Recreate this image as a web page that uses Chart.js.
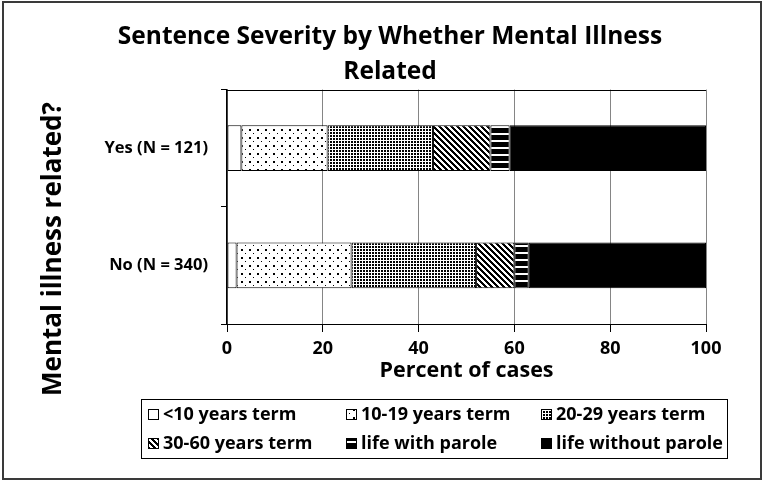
<!DOCTYPE html>
<html><head><meta charset="utf-8">
<script src="https://cdn.jsdelivr.net/npm/chart.js@4.4.0/dist/chart.umd.min.js"></script>
<style>html,body{margin:0;padding:0;background:#fff}#wrap{width:762px;height:481px;position:relative}</style>
</head><body><div id="wrap"><canvas id="c" width="762" height="481"></canvas></div>
<script>
const categories = ['Yes (N = 121)', 'No (N = 340)'];
const seriesNames = ['<10 years term', '10-19 years term', '20-29 years term', '30-60 years term', 'life with parole', 'life without parole'];
const under10 = [3, 2];
const y10to19 = [18, 24];
const y20to29 = [22, 26];
const y30to60 = [12, 8];
const lifeParole = [4, 3];
const lifeNoParole = [41, 37];
const xTickValues = [0, 20, 40, 60, 80, 100];
const yAxisTitle = 'Mental illness related?';

const FONT = '"Open Sans", Roboto, sans-serif';

function makePattern(w, h, draw) {
  const c = document.createElement('canvas');
  c.width = w; c.height = h;
  const g = c.getContext('2d');
  g.fillStyle = '#fff'; g.fillRect(0, 0, w, h);
  g.fillStyle = '#000';
  draw(g, w, h);
  return document.getElementById('c').getContext('2d').createPattern(c, 'repeat');
}
const patWhite = '#ffffff';
const patSparse = makePattern(8, 8, g => { g.fillRect(1, 1, 2, 2); g.fillRect(5, 5, 1, 1); });
const patDense = makePattern(3, 3, g => { g.fillRect(0, 0, 2, 2); });
const patDiag = makePattern(6, 6, g => {
  for (let y = 0; y < 6; y++) for (let x = 0; x < 6; x++) {
    if (((x - y) % 6 + 6) % 6 < 3) g.fillRect(x, y, 1, 1);
  }
});
const patHoriz = makePattern(4, 7, g => { g.fillRect(0, 0, 4, 7); g.fillStyle = '#fff'; g.fillRect(0, 0, 4, 2); });
const patBlack = '#000000';

const seriesData = [under10, y10to19, y20to29, y30to60, lifeParole, lifeNoParole];
const fills = [patWhite, patSparse, patDense, patDiag, patHoriz, patBlack];

const datasets = seriesNames.map((name, i) => ({
  label: name,
  data: seriesData[i],
  backgroundColor: fills[i],
  borderColor: '#000',
  borderWidth: 1,
  borderSkipped: false,
  categoryPercentage: 1,
  barPercentage: 0.39
}));

const decor = {
  id: 'decor',
  afterDraw(chart) {
    const ctx = chart.ctx;
    const a = chart.chartArea;
    ctx.save();
    ctx.strokeStyle = '#000'; ctx.lineWidth = 1;
    ctx.beginPath(); ctx.moveTo(a.left, Math.round(a.top) + 0.5); ctx.lineTo(a.right, Math.round(a.top) + 0.5); ctx.stroke();
    ctx.strokeStyle = '#3a3a3a'; ctx.lineWidth = 2;
    ctx.strokeRect(3, 2, 758, 477);
    // y axis title
    ctx.save();
    ctx.translate(54, 249);
    ctx.rotate(-Math.PI / 2);
    ctx.font = 'bold 26px ' + FONT;
    ctx.fillStyle = '#000'; ctx.textAlign = 'center'; ctx.textBaseline = 'middle';
    ctx.fillText(yAxisTitle, 0, 0);
    ctx.restore();
    // legend
    const L = { x: 141.5, y: 399.5, w: 586, h: 59, cols: [148, 346, 541], rows: [414, 443], box: 11 };
    ctx.strokeStyle = '#000'; ctx.lineWidth = 1;
    ctx.strokeRect(L.x, L.y, L.w, L.h);
    ctx.font = 'bold 18px ' + FONT;
    ctx.textBaseline = 'middle'; ctx.textAlign = 'left'; ctx.fillStyle = '#000';
    chart.data.datasets.forEach((ds, i) => {
      const x = L.cols[i % 3], y = L.rows[Math.floor(i / 3)];
      ctx.fillStyle = ds.backgroundColor;
      ctx.fillRect(x, y - 5, L.box, L.box);
      ctx.strokeStyle = '#000';
      ctx.strokeRect(x + 0.5, y - 4.5, L.box - 1, L.box - 1);
      ctx.fillStyle = '#000';
      ctx.fillText(ds.label, x + 15, y + 1);
    });
    ctx.restore();
  }
};

new Chart(document.getElementById('c'), {
  type: 'bar',
  data: { labels: categories, datasets },
  plugins: [decor],
  options: {
    indexAxis: 'y',
    responsive: false,
    animation: false,
    devicePixelRatio: 1,
    layout: { padding: { left: 74, right: 56, top: 0, bottom: 97 } },
    plugins: {
      legend: { display: false },
      tooltip: { enabled: false },
      title: {
        display: true,
        text: ['Sentence Severity by Whether Mental Illness', 'Related'],
        color: '#000',
        font: { family: FONT, size: 24.5, weight: 'bold', lineHeight: 1.43 },
        padding: { top: 19.5, bottom: 0 }
      }
    },
    scales: {
      x: {
        stacked: true, min: 0, max: 100,
        afterBuildTicks: s => { s.ticks = xTickValues.map(v => ({ value: v })); },
        afterFit: s => { s.height = 60; },
        grid: { color: '#858585', tickColor: '#000', tickLength: 8, lineWidth: 1 },
        border: { color: '#000', width: 1 },
        ticks: { color: '#000', padding: 6, font: { family: FONT, size: 18, weight: 'bold' } },
        title: { display: true, text: 'Percent of cases', color: '#000', padding: 0, font: { family: FONT, size: 21.5, weight: 'bold' } }
      },
      y: {
        stacked: true,
        afterFit: s => { s.width = 153; },
        grid: { offset: true, drawOnChartArea: false, tickColor: '#000', tickLength: 6 },
        border: { color: '#000', width: 1.5 },
        ticks: { color: '#000', padding: 13, font: { family: FONT, size: 16.5, weight: 'bold' } },
        title: { display: false }
      }
    }
  }
});
</script></body></html>
